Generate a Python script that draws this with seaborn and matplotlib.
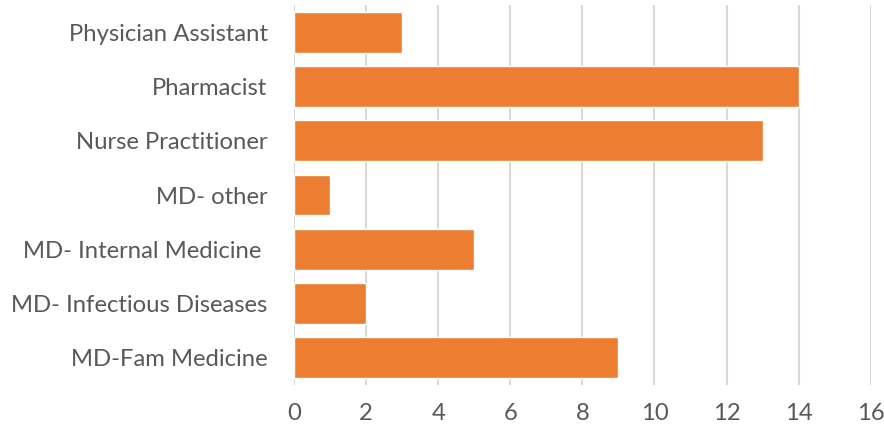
import matplotlib
matplotlib.use("Agg")
import matplotlib.pyplot as plt
import seaborn as sns
import pandas as pd

categories = ["Physician Assistant", "Pharmacist", "Nurse Practitioner", "MD- other",
              "MD- Internal Medicine ", "MD- Infectious Diseases", "MD-Fam Medicine"]
values = [3, 14, 13, 1, 5, 2, 9]
x_ticks = [0, 2, 4, 6, 8, 10, 12, 14, 16]

sns.set_theme(style="white")
plt.rcParams['font.family'] = ['Lato', 'DejaVu Sans']

df = pd.DataFrame({"cat": categories, "val": values})

fig = plt.figure(figsize=(8.84, 4.29), dpi=100)
ax = fig.add_axes([294/884, 1-385/429, (870.7-294)/884, 380/429])
sns.barplot(data=df, y="cat", x="val", orient="h", color="#ED7D31", saturation=1,
            width=0.755, ax=ax, zorder=3)
ax.set_xlim(0, 16)
ax.set_ylim(6.5, -0.5)
ax.set_xticks(x_ticks)
ax.set_xticklabels([str(t) for t in x_ticks])
ax.xaxis.grid(True, color="#d9d9d9", linewidth=1.5, zorder=0)
ax.set_axisbelow(True)
for s in ax.spines.values():
    s.set_visible(False)
ax.set_xlabel("")
ax.set_ylabel("")
ax.tick_params(axis="both", length=0, labelsize=17.2, colors="#595959")
ax.tick_params(axis="x", pad=13)
ax.tick_params(axis="y", pad=19)
fig.savefig("out.png", dpi=100)
